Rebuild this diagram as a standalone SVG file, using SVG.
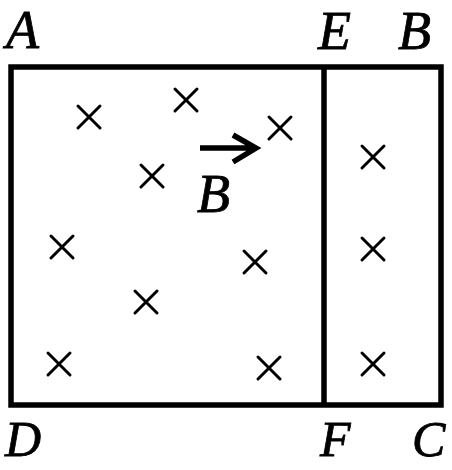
<svg xmlns="http://www.w3.org/2000/svg" width="452" height="470" viewBox="0 0 452 470">
<style>
.lbl{font-family:"Liberation Serif","Times New Roman",serif;font-style:italic;font-size:54px;fill:#000;stroke:#000;stroke-width:0.8}
.bot{font-size:50px}
.x{stroke:#000;stroke-width:3;stroke-linecap:round;fill:none}
.frame{stroke:#000;stroke-width:5.5;fill:none}
</style>
<defs>
<path id="cr" class="x" d="M-11,-11L11,11M11,-11L-11,11"/>
</defs>
<rect width="452" height="470" fill="#fff"/>
<g id="frame">
<rect class="frame" x="11" y="67" width="430" height="338"/>
<line class="frame" x1="324" y1="67" x2="324" y2="405" stroke-width="5"/>
</g>
<g id="field">
<use href="#cr" x="89" y="117"/>
<use href="#cr" x="186" y="100"/>
<use href="#cr" x="280" y="128"/>
<use href="#cr" x="152" y="176"/>
<use href="#cr" x="62" y="247"/>
<use href="#cr" x="255" y="262"/>
<use href="#cr" x="146" y="302"/>
<use href="#cr" x="59" y="364"/>
<use href="#cr" x="269" y="368"/>
<use href="#cr" x="373" y="157"/>
<use href="#cr" x="373" y="249"/>
<use href="#cr" x="373" y="364"/>
</g>
<g id="Bvec">
<path d="M200,148H254M233,135L256,148L233,162" stroke="#000" stroke-width="5.5" fill="none"/>
<text class="lbl" x="197" y="212">B</text>
</g>
<g id="labels">
<text class="lbl" x="6" y="48">A</text>
<text class="lbl" x="318" y="49">E</text>
<text class="lbl" x="398" y="49">B</text>
<text class="lbl bot" x="5" y="456">D</text>
<text class="lbl bot" x="320" y="456">F</text>
<text class="lbl bot" x="412" y="456">C</text>
</g>
</svg>
